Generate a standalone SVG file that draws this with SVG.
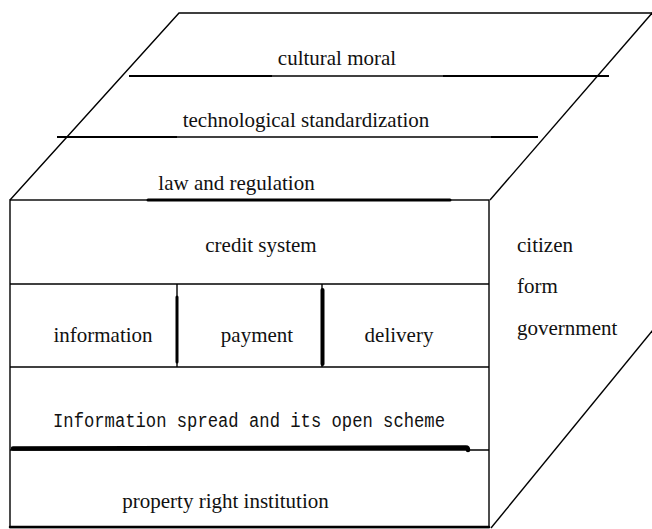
<svg xmlns="http://www.w3.org/2000/svg" width="652" height="529" viewBox="0 0 652 529">
<style>
.ln{stroke:#000;fill:none;stroke-width:1.4}
.th{stroke:#000;fill:none;stroke-width:2.2}
.bold{stroke:#000;fill:none;stroke-width:3;stroke-linecap:round}
.t{font-family:"Liberation Serif","Times New Roman",serif;font-size:21px;fill:#111}
.m{font-family:"Liberation Mono","DejaVu Sans Mono",monospace;font-size:20px;fill:#111}
</style>
<rect width="652" height="529" fill="#fff"/>
<g id="box-outline">
<polyline class="ln" points="10,200 179,13 654,13"/>
<line class="ln" x1="490" y1="200" x2="653" y2="12"/>
<line class="ln" x1="653" y1="330" x2="491" y2="528"/>
<rect class="ln" x="10" y="200" width="479" height="327.5"/>
</g>
<g id="cultural-moral">
<line class="ln" x1="129" y1="76" x2="609" y2="76"/>
<line class="th" x1="129" y1="76" x2="272" y2="76"/>
<line class="th" x1="443" y1="76" x2="609" y2="76"/>
<text class="t" x="337" y="65" text-anchor="middle">cultural moral</text>
</g>
<g id="technological-standardization">
<line class="ln" x1="57" y1="137" x2="538" y2="137"/>
<line class="th" x1="57" y1="137" x2="177" y2="137"/>
<line class="th" x1="491" y1="137" x2="538" y2="137"/>
<text class="t" x="306" y="127" text-anchor="middle">technological standardization</text>
</g>
<g id="law-and-regulation">
<line class="bold" x1="148" y1="200" x2="450" y2="200"/>
<text class="t" x="236.5" y="190" text-anchor="middle">law and regulation</text>
</g>
<g id="credit-system">
<line class="ln" x1="10" y1="284" x2="489" y2="284"/>
<text class="t" x="261" y="252" text-anchor="middle">credit system</text>
</g>
<g id="information">
<text class="t" x="103" y="342" text-anchor="middle">information</text>
</g>
<g id="payment">
<line class="ln" x1="177" y1="284" x2="177" y2="367"/>
<line class="bold" x1="177" y1="297" x2="177" y2="362"/>
<text class="t" x="257" y="342" text-anchor="middle">payment</text>
</g>
<g id="delivery">
<line class="ln" x1="322" y1="284" x2="322" y2="367"/>
<line class="bold" x1="322.5" y1="290" x2="322.5" y2="364" style="stroke-width:4"/>
<text class="t" x="399" y="342" text-anchor="middle">delivery</text>
</g>
<g id="information-spread">
<line class="ln" x1="10" y1="367" x2="489" y2="367"/>
<text class="m" x="53" y="427" textLength="392" lengthAdjust="spacingAndGlyphs">Information spread and its open scheme</text>
<line class="ln" x1="10" y1="450" x2="489" y2="450"/>
<path d="M13,448.5 L466,447.5 Q468,447.5 468,450" stroke="#000" stroke-width="4.5" fill="none" stroke-linecap="round"/>
</g>
<g id="property-right-institution">
<line class="bold" x1="10" y1="527" x2="489" y2="527" style="stroke-width:2.5"/>
<text class="t" x="225.5" y="508" text-anchor="middle">property right institution</text>
</g>
<g id="actors">
<text class="t" x="517" y="252">citizen</text>
<text class="t" x="517" y="293">form</text>
<text class="t" x="517" y="335">government</text>
</g>
</svg>
